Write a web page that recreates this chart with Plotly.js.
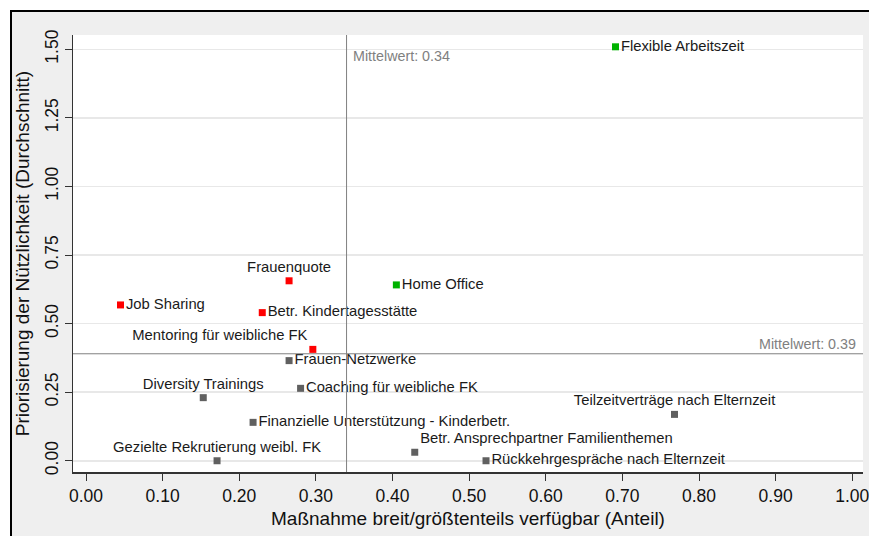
<!DOCTYPE html>
<html>
<head>
<meta charset="utf-8">
<script src="https://cdn.plot.ly/plotly-3.0.1.min.js"></script>
<style>
  html, body { margin: 0; padding: 0; background: #ffffff; }
  #wrap { position: relative; width: 869px; height: 536px; overflow: hidden; background: #ffffff; }
  #frame { position: absolute; left: 10px; top: 10px; width: 900px; height: 600px;
           border-left: 2px solid #000; border-top: 2px solid #000; background: #efefef; }
  #chart { position: absolute; left: 0; top: 0; width: 869px; height: 536px; }
</style>
</head>
<body>
<div id="wrap">
  <div id="frame"></div>
  <div id="chart"></div>
</div>
<script>
// Data
const measures = [
  "Flexible Arbeitszeit",
  "Home Office",
  "Frauenquote",
  "Job Sharing",
  "Betr. Kindertagesstätte",
  "Mentoring für weibliche FK",
  "Frauen-Netzwerke",
  "Coaching für weibliche FK",
  "Diversity Trainings",
  "Finanzielle Unterstützung - Kinderbetr.",
  "Gezielte Rekrutierung weibl. FK",
  "Betr. Ansprechpartner Familienthemen",
  "Rückkehrgespräche nach Elternzeit",
  "Teilzeitverträge nach Elternzeit"
];
const availability = [0.691, 0.405, 0.265, 0.045, 0.230, 0.296, 0.265, 0.280, 0.153, 0.218, 0.171, 0.429, 0.522, 0.768];
const usefulness   = [1.509, 0.641, 0.656, 0.568, 0.540, 0.406, 0.365, 0.264, 0.230, 0.140, 0.000, 0.031, 0.000, 0.169];
const group        = ["high", "high", "low", "low", "low", "low", "none", "none", "none", "none", "none", "none", "none", "none"];
const meanX = 0.34;
const meanY = 0.39;
const xTicks = [0, 0.1, 0.2, 0.3, 0.4, 0.5, 0.6, 0.7, 0.8, 0.9, 1.0];
const yTicks = [0, 0.25, 0.5, 0.75, 1.0, 1.25, 1.5];

// Styling
const groupColor = { high: "#00b200", low: "#ff0000", none: "#606060" };
const labelPos = {
  "Frauenquote": "top center",
  "Mentoring für weibliche FK": "top left",
  "Diversity Trainings": "top center",
  "Gezielte Rekrutierung weibl. FK": "top center",
  "Betr. Ansprechpartner Familienthemen": "top right",
  "Teilzeitverträge nach Elternzeit": "top center"
};
const FONT = "Liberation Sans, Arial, Helvetica, sans-serif";

const trace = {
  type: "scatter",
  mode: "markers+text",
  x: availability,
  y: usefulness,
  text: measures,
  textposition: measures.map(m => labelPos[m] || "middle right"),
  textfont: { family: FONT, size: 14.8, color: "#1a1a1a" },
  marker: { symbol: "square", size: 7, color: group.map(g => groupColor[g]) },
  hoverinfo: "skip",
  cliponaxis: false,
  showlegend: false
};

const layout = {
  width: 869, height: 536,
  margin: { l: 73, r: 6, t: 35, b: 64 },
  paper_bgcolor: "rgba(0,0,0,0)",
  plot_bgcolor: "#ffffff",
  font: { family: FONT, color: "#000" },
  xaxis: {
    range: [-0.017, 1.014],
    tickvals: xTicks,
    ticktext: xTicks.map(v => v.toFixed(2)),
    tickfont: { family: FONT, size: 17.5, color: "#111" },
    ticklabeloverflow: "allow",
    ticks: "outside", ticklen: 7, tickwidth: 1, tickcolor: "#333",
    showgrid: false, zeroline: false,
    showline: true, linecolor: "#333", linewidth: 1.5,
    title: { text: "Maßnahme breit/größtenteils verfügbar (Anteil)", font: { family: FONT, size: 19, color: "#111" }, standoff: 7 }
  },
  yaxis: {
    range: [-0.041, 1.552],
    tickvals: yTicks,
    ticktext: yTicks.map(v => v.toFixed(2)),
    tickangle: -90,
    tickfont: { family: FONT, size: 17.5, color: "#111" },
    ticklabeloverflow: "allow",
    ticks: "outside", ticklen: 7, tickwidth: 1, tickcolor: "#333",
    showgrid: true, gridcolor: "#e8e8e8", gridwidth: 1.5,
    zeroline: false,
    showline: true, linecolor: "#333", linewidth: 1.5,
    title: { text: "Priorisierung der Nützlichkeit (Durchschnitt)", font: { family: FONT, size: 19, color: "#111" }, standoff: 7 }
  },
  shapes: [
    { type: "line", xref: "x", yref: "paper", x0: meanX, x1: meanX, y0: 0, y1: 1, line: { color: "#808080", width: 1 } },
    { type: "line", xref: "paper", yref: "y", x0: 0, x1: 1, y0: meanY, y1: meanY, line: { color: "#808080", width: 1 } }
  ],
  annotations: [
    { xref: "x", yref: "paper", x: meanX, y: 1, xanchor: "left", yanchor: "top", xshift: 4, yshift: -11,
      text: "Mittelwert: " + meanX.toFixed(2), showarrow: false, font: { family: FONT, size: 14.3, color: "#808080" } },
    { xref: "paper", yref: "y", x: 1, y: meanY, xanchor: "right", yanchor: "bottom", xshift: -5, yshift: 0,
      text: "Mittelwert: " + meanY.toFixed(2), showarrow: false, font: { family: FONT, size: 14.3, color: "#808080" } }
  ]
};

Plotly.newPlot("chart", [trace], layout, { displayModeBar: false, staticPlot: true });
</script>
</body>
</html>
